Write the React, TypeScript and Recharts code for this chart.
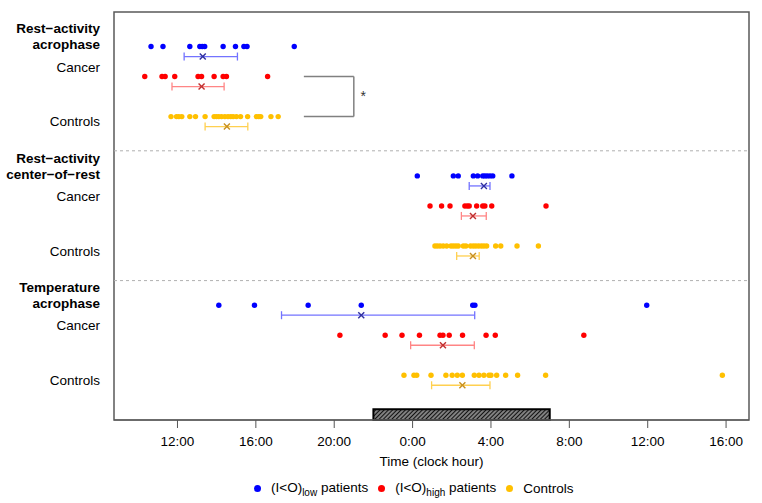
import {
  ScatterChart,
  Scatter,
  XAxis,
  YAxis,
  ErrorBar,
  ReferenceArea,
  ReferenceLine,
  ReferenceDot,
} from "recharts";

// hours since midnight of day 1 (24 = 0:00 next day)
const X_MIN = 8.76;
const X_MAX = 41.17;
const Y_MAX = 40.77;
const HOUR_TICKS = [12, 16, 20, 24, 28, 32, 36, 40];

const SECTION_BASE = [3.45, 16.38, 29.3];
const SECTION_TITLES = [
  ["Rest\u2212activity", "acrophase"],
  ["Rest\u2212activity", "center\u2212of\u2212rest"],
  ["Temperature", "acrophase"],
];
const SEPARATORS = [13.87, 26.84];

// individual subjects per section: [acrophase, center-of-rest, temperature]
const lowPatients = [
  [10.65, 11.26, 12.63, 13.14, 13.26, 13.39, 14.33, 14.96, 15.39, 15.55, 17.96],
  [24.24, 26.08, 26.33, 27.1, 27.32, 27.58, 27.69, 27.81, 27.95, 28.09, 29.07],
  [14.11, 15.93, 18.67, 21.38, 27.07, 27.18, 35.95],
];
const highPatients = [
  [10.33, 11.21, 11.37, 11.86, 13.05, 13.23, 13.87, 14.33, 14.5, 16.6],
  [24.89, 25.48, 25.91, 26.67, 26.79, 26.89, 27.27, 27.58, 27.69, 28.04, 30.81],
  [20.29, 22.6, 23.46, 24.35, 25.4, 25.55, 25.87, 26.55, 27.75, 28.22, 32.74],
];
const controls = [
  [11.67, 11.95, 12.07, 12.22, 12.63, 12.92, 13.41, 13.87, 13.99, 14.11, 14.25, 14.42, 14.58, 14.72, 14.84, 15.01, 15.22, 15.58, 16.03, 16.15, 16.25, 16.77, 17.14],
  [25.14, 25.26, 25.4, 25.56, 25.74, 25.96, 26.08, 26.21, 26.33, 26.59, 26.72, 26.96, 27.1, 27.23, 27.37, 27.51, 27.64, 27.78, 28.24, 28.5, 29.33, 30.42],
  [23.56, 24.07, 24.21, 24.94, 25.7, 26.02, 26.28, 26.54, 27.15, 27.39, 27.64, 27.9, 28.0, 28.29, 28.75, 29.36, 30.79, 39.81],
];

// mean, lower, upper per section
const lowMeans = [[13.29, 12.34, 15.06], [27.64, 26.89, 27.95], [21.38, 17.31, 27.17]];
const highMeans = [[13.23, 11.72, 14.38], [27.08, 26.49, 27.76], [25.55, 23.9, 27.15]];
const controlMeans = [[14.52, 13.41, 15.59], [27.08, 26.25, 27.4], [26.54, 24.97, 27.95]];

const GROUPS = [
  { name: "low", pts: lowPatients, means: lowMeans, row: 0, color: "#0000FF", bar: "#7373ff", mark: "#3030a0" },
  { name: "high", pts: highPatients, means: highMeans, row: 3, color: "#FF0000", bar: "#ff8585", mark: "#c03030" },
  { name: "ctrl", pts: controls, means: controlMeans, row: 7, color: "#FFC000", bar: "#ffd050", mark: "#c89020" },
];

const LABEL_OFFSETS = [-1.8, -0.2, 2.05, 7.5];
const LABELS = SECTION_BASE.flatMap((b, s) =>
  [SECTION_TITLES[s][0], SECTION_TITLES[s][1], "Cancer", "Controls"].map((text, i) => ({
    y: b + LABEL_OFFSETS[i],
    text,
    bold: i < 2,
  }))
);

const FONT = "'Liberation Sans', Arial, sans-serif";

const fmtHour = (h: number) => `${h % 24}:00`;

function LabelTick(props: any) {
  const lab = LABELS.find((l) => Math.abs(l.y - props.payload.value) < 1e-6);
  if (!lab) return null;
  return (
    <text
      x={100}
      y={props.y}
      dy="0.35em"
      textAnchor="end"
      fontFamily={FONT}
      fontSize={13.5}
      fontWeight={lab.bold ? 700 : 400}
      fill="#000"
    >
      {lab.text}
    </text>
  );
}

export default function App() {
  return (
    <div style={{ position: "absolute", left: 0, top: 0, width: 762, height: 503, background: "#fff" }}>
      <svg width={0} height={0} style={{ position: "absolute" }}>
        <defs>
          <pattern id="hatch" width={3} height={3} patternUnits="userSpaceOnUse" patternTransform="rotate(45)">
            <rect width={3} height={3} fill="#808080" />
            <line x1={0} y1={0} x2={0} y2={3} stroke="#111" strokeWidth={2} />
          </pattern>
        </defs>
      </svg>
      <ScatterChart width={762} height={503} margin={{ top: 12, right: 13, bottom: 33, left: 0 }}>
        <XAxis
          type="number"
          dataKey="x"
          domain={[X_MIN, X_MAX]}
          allowDataOverflow
          ticks={HOUR_TICKS}
          tickFormatter={fmtHour}
          tickSize={8}
          tickMargin={8}
          height={50}
          stroke="#555"
          tick={{ fill: "#000", fontSize: 13.5, fontFamily: FONT }}
          label={{ value: "Time (clock hour)", position: "insideBottom", offset: 4, fill: "#000", fontSize: 13.5, fontFamily: FONT }}
        />
        <YAxis
          type="number"
          dataKey="y"
          domain={[0, Y_MAX]}
          reversed
          width={114}
          ticks={LABELS.map((l) => l.y)}
          interval={0}
          tickLine={false}
          axisLine={false}
          tick={<LabelTick />}
        />
        {SEPARATORS.map((y) => (
          <ReferenceLine key={y} y={y} stroke="#b0b0b0" strokeDasharray="3 3" />
        ))}
        <ReferenceArea x1={22} x2={31} y1={39.7} y2={Y_MAX} fill="url(#hatch)" fillOpacity={1} stroke="#000" strokeWidth={2} />
        <ReferenceArea x1={X_MIN} x2={X_MAX} y1={0} y2={Y_MAX} fill="none" fillOpacity={0} stroke="#5a5a5a" strokeWidth={1.5} />
        {/* significance bracket between cancer and controls */}
        <ReferenceLine segment={[{ x: 18.45, y: 6.44 }, { x: 21.0, y: 6.44 }]} stroke="#808080" strokeWidth={1.5} />
        <ReferenceLine segment={[{ x: 21.0, y: 6.44 }, { x: 21.0, y: 10.44 }]} stroke="#808080" strokeWidth={1.5} />
        <ReferenceLine segment={[{ x: 18.45, y: 10.44 }, { x: 21.0, y: 10.44 }]} stroke="#808080" strokeWidth={1.5} />
        <ReferenceDot
          x={21.48}
          y={8.44}
          r={0}
          fill="none"
          stroke="none"
          label={{ value: "*", position: "center", fill: "#333", fontSize: 14, fontFamily: FONT }}
        />
        {GROUPS.map((g) => (
          <Scatter
            key={g.name + "-pts"}
            isAnimationActive={false}
            data={g.pts.flatMap((arr, s) => arr.map((x) => ({ x, y: SECTION_BASE[s] + g.row })))}
            shape={(p: any) => <circle cx={p.cx} cy={p.cy} r={2.7} fill={g.color} />}
          />
        ))}
        {GROUPS.map((g) => (
          <Scatter
            key={g.name + "-mean"}
            isAnimationActive={false}
            data={g.means.map(([m, lo, hi], s) => ({ x: m, y: SECTION_BASE[s] + g.row + 1, err: [m - lo, hi - m] }))}
            shape={(p: any) => (
              <g stroke={g.mark} strokeWidth={1.4}>
                <line x1={p.cx - 3} y1={p.cy - 3} x2={p.cx + 3} y2={p.cy + 3} />
                <line x1={p.cx - 3} y1={p.cy + 3} x2={p.cx + 3} y2={p.cy - 3} />
              </g>
            )}
          >
            <ErrorBar dataKey="err" direction="x" width={4} stroke={g.bar} strokeWidth={1.3} />
          </Scatter>
        ))}
      </ScatterChart>
      <div
        style={{
          position: "absolute",
          top: 480,
          left: 254,
          display: "flex",
          alignItems: "center",
          fontFamily: FONT,
          fontSize: 13.5,
          color: "#000",
          whiteSpace: "nowrap",
        }}
      >
        {[
          { c: "#0000FF", sub: "low", t: " patients" },
          { c: "#FF0000", sub: "high", t: " patients" },
          { c: "#FFC000", sub: "", t: "Controls" },
        ].map((it, i) => (
          <span key={i} style={{ display: "flex", alignItems: "center", marginRight: 10 }}>
            <span style={{ width: 7, height: 7, borderRadius: 4, background: it.c, marginRight: 10 }} />
            <span>
              {it.sub ? (
                <>
                  (I&lt;O)<sub style={{ fontSize: 10 }}>{it.sub}</sub>
                </>
              ) : null}
              {it.t}
            </span>
          </span>
        ))}
      </div>
    </div>
  );
}
